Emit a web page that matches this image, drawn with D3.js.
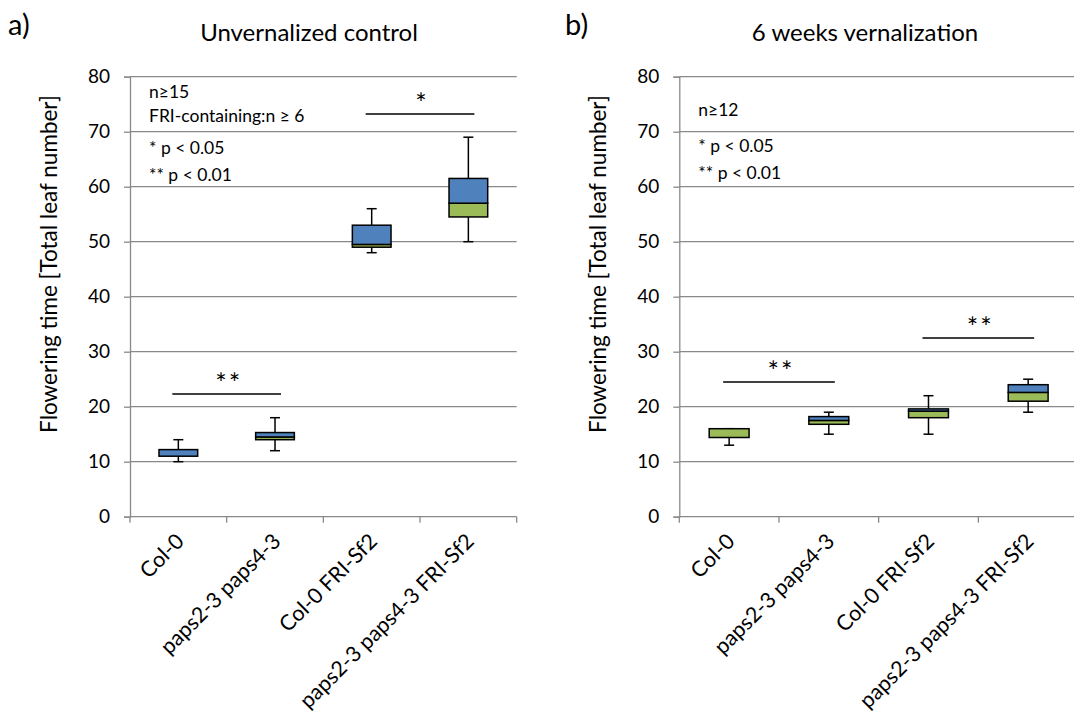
<!DOCTYPE html>
<html>
<head>
<meta charset="utf-8">
<script src="https://cdn.jsdelivr.net/npm/d3@7"></script>
<style>
  body { margin: 0; background: #fff; }
  svg text { font-family: Lato, "Open Sans", sans-serif; fill: #000; }
</style>
</head>
<body>
<script>
// genotypes on the x axis
const categories = ["Col-0", "paps2-3 paps4-3", "Col-0 FRI-Sf2", "paps2-3 paps4-3 FRI-Sf2"];
const yTicks = [0, 10, 20, 30, 40, 50, 60, 70, 80];

// a) unvernalized control, box plot stats
const unvernMin = [10, 12, 48, 50];
const unvernQ1  = [11, 14, 49, 54.5];
const unvernMed = [11, 14.5, 49.5, 57];
const unvernQ3  = [12.2, 15.3, 53, 61.5];
const unvernMax = [14, 18, 56, 69];

// b) 6 weeks vernalization
const vernMin = [13, 15, 15, 19];
const vernQ1  = [14.4, 16.8, 18, 21];
const vernMed = [16, 17.5, 19.2, 22.6];
const vernQ3  = [16, 18.2, 19.6, 24];
const vernMax = [16, 19, 22, 25];

// significance bars: [from category, to category, height, label]
const unvernSig = [[0, 1, 22.3, "**"], [2, 3, 73.2, "*"]];
const vernSig   = [[0, 1, 24.5, "**"], [2, 3, 32.5, "**"]];

const unvernNotes = ["n\u226515", "FRI-containing:n \u2265 6", "* p < 0.05", "** p < 0.01"];
const vernNotes   = ["n\u226512", "* p < 0.05", "** p < 0.01"];

const W = 1074, H = 716;
const blue = "#4f81bd", green = "#9bbb59", grid = "#898989";

const svg = d3.select("body").append("svg")
  .attr("width", W)
  .attr("height", H);

function drawPanel(opt) {
  const g = svg.append("g");
  const x = d3.scaleBand().domain(categories).range([opt.x0, opt.x1]).padding(0);
  const y = d3.scaleLinear().domain([0, 80]).range([516.7, 76.7]);
  const bw = x.bandwidth();
  const cx = (i) => x(categories[i]) + bw / 2;

  // gridlines
  g.selectAll(".grid")
    .data(yTicks.filter(d => d > 0))
    .enter().append("line")
    .attr("x1", opt.x0).attr("x2", opt.x1)
    .attr("y1", d => y(d)).attr("y2", d => y(d))
    .attr("stroke", grid).attr("stroke-width", 1.3);

  // y axis
  const yAxis = d3.axisLeft(y).tickValues(yTicks).tickSize(6).tickPadding(14);
  const ga = g.append("g")
    .attr("transform", "translate(" + opt.x0 + ",0)")
    .call(yAxis);
  ga.select(".domain").attr("stroke", grid).attr("stroke-width", 1.3);
  ga.selectAll(".tick line").attr("stroke", grid).attr("stroke-width", 1.3);
  ga.selectAll(".tick text").attr("font-size", "19px").attr("font-family", "Lato").attr("fill", "#000");

  // x axis (Excel style ticks between categories)
  g.append("line")
    .attr("x1", opt.x0).attr("x2", opt.x1)
    .attr("y1", y(0)).attr("y2", y(0))
    .attr("stroke", grid).attr("stroke-width", 1.3);
  g.selectAll(".xtick")
    .data(categories.concat(["end"]))
    .enter().append("line")
    .attr("x1", (d, i) => opt.x0 + i * bw).attr("x2", (d, i) => opt.x0 + i * bw)
    .attr("y1", y(0)).attr("y2", y(0) + 6)
    .attr("stroke", grid).attr("stroke-width", 1.3);
  g.selectAll(".xlab")
    .data(categories)
    .enter().append("text")
    .attr("text-anchor", "end")
    .attr("font-size", "21.5px")
    .attr("transform", (d, i) => "translate(" + (cx(i) + 7) + "," + (y(0) + 26) + ") rotate(-45)")
    .text(d => d);

  // boxes
  const boxW = bw * 0.4;
  const stats = categories.map((c, i) => ({
    i: i, min: opt.min[i], q1: opt.q1[i], med: opt.med[i], q3: opt.q3[i], max: opt.max[i]
  }));
  const b = g.selectAll(".box").data(stats).enter().append("g");
  b.append("line")
    .attr("x1", d => cx(d.i)).attr("x2", d => cx(d.i))
    .attr("y1", d => y(d.min)).attr("y2", d => y(d.q1))
    .attr("stroke", "#000").attr("stroke-width", 1.5);
  b.append("line")
    .attr("x1", d => cx(d.i)).attr("x2", d => cx(d.i))
    .attr("y1", d => y(d.q3)).attr("y2", d => y(d.max))
    .attr("stroke", "#000").attr("stroke-width", 1.5);
  b.append("line")
    .attr("x1", d => cx(d.i) - 5).attr("x2", d => cx(d.i) + 5)
    .attr("y1", d => y(d.min)).attr("y2", d => y(d.min))
    .attr("stroke", "#000").attr("stroke-width", 1.5);
  b.append("line")
    .attr("x1", d => cx(d.i) - 5).attr("x2", d => cx(d.i) + 5)
    .attr("y1", d => y(d.max)).attr("y2", d => y(d.max))
    .attr("stroke", "#000").attr("stroke-width", 1.5);
  b.append("rect")
    .attr("x", d => cx(d.i) - boxW / 2).attr("width", boxW)
    .attr("y", d => y(d.med)).attr("height", d => y(d.q1) - y(d.med))
    .attr("fill", green).attr("stroke", "#000").attr("stroke-width", 1.5);
  b.append("rect")
    .attr("x", d => cx(d.i) - boxW / 2).attr("width", boxW)
    .attr("y", d => y(d.q3)).attr("height", d => y(d.med) - y(d.q3))
    .attr("fill", blue).attr("stroke", "#000").attr("stroke-width", 1.5);

  // significance bars
  opt.sig.forEach(s => {
    const xa = cx(s[0]) - 6, xb = cx(s[1]) + 6;
    g.append("line")
      .attr("x1", xa).attr("x2", xb)
      .attr("y1", y(s[2])).attr("y2", y(s[2]))
      .attr("stroke", "#000").attr("stroke-width", 1.5);
    g.append("text")
      .attr("x", (xa + xb) / 2 + 2).attr("y", y(s[2]) - 1)
      .attr("text-anchor", "middle")
      .attr("font-size", "27px")
      .attr("letter-spacing", "2px")
      .text(s[3]);
  });

  // notes
  g.selectAll(".note")
    .data(opt.notes)
    .enter().append("text")
    .attr("x", opt.x0 + 19)
    .attr("y", (d, i) => opt.noteY[i])
    .attr("font-size", "17.5px")
    .text(d => d);

  // y title
  g.append("text")
    .attr("transform", "translate(" + (opt.x0 - 73) + ",264) rotate(-90)")
    .attr("text-anchor", "middle")
    .attr("font-size", "22.5px")
    .text("Flowering time [Total leaf number]");

  // title + panel letter
  g.append("text")
    .attr("x", opt.titleX).attr("y", 41)
    .attr("text-anchor", "middle")
    .attr("font-size", "24px")
    .text(opt.title);
  g.append("text")
    .attr("x", opt.letterX).attr("y", 35)
    .attr("font-size", "29px")
    .text(opt.letter);
}

drawPanel({
  x0: 130, x1: 516.7,
  min: unvernMin, q1: unvernQ1, med: unvernMed, q3: unvernQ3, max: unvernMax,
  sig: unvernSig, notes: unvernNotes, noteY: [98, 122, 154, 180.5],
  title: "Unvernalized control", titleX: 309, letter: "a)", letterX: 8
});

drawPanel({
  x0: 679.3, x1: 1078,
  min: vernMin, q1: vernQ1, med: vernMed, q3: vernQ3, max: vernMax,
  sig: vernSig, notes: vernNotes, noteY: [116, 152, 178.5],
  title: "6 weeks vernalization", titleX: 865, letter: "b)", letterX: 565
});
</script>
</body>
</html>
